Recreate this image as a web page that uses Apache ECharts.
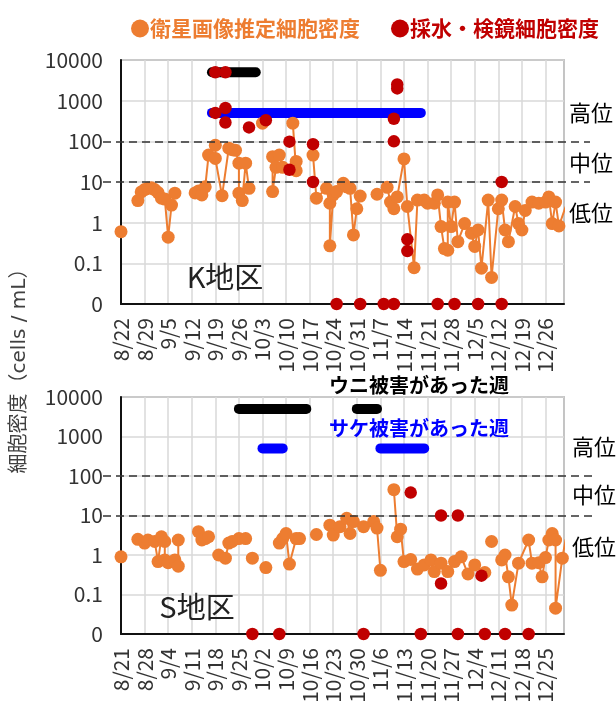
<!DOCTYPE html>
<html><head><meta charset="utf-8">
<script src="https://cdn.jsdelivr.net/npm/echarts@6/dist/echarts.min.js"></script>
<style>html,body{margin:0;padding:0;background:#fff}#c{width:616px;height:702px}</style>
</head><body><div id="c"></div>
<script>
// ---------- data ----------
const kStart = '8/22';
const sStart = '8/21';
const kTickLabels = ['8/22','8/29','9/5','9/12','9/19','9/26','10/3','10/10','10/17','10/24','10/31','11/7','11/14','11/21','11/28','12/5','12/12','12/19','12/26'];
const sTickLabels = ['8/21','8/28','9/4','9/11','9/18','9/25','10/2','10/9','10/16','10/23','10/30','11/6','11/13','11/20','11/27','12/4','12/11','12/18','12/25'];
const yTickLabels = ['0','0.1','1','10','100','1000','10000'];
const zeroValue = 0.01; // "0" row on the log axis

// K area, satellite estimated density (null = gap in the line)
const kSatDates  = ['8/22','8/23',
  '8/27','8/28','8/29','8/30','8/31','9/1','9/2','9/3','9/4','9/5','9/6','9/7','9/8',
  '9/13','9/14','9/15','9/16','9/17','9/19','9/19','9/21','9/23','9/24','9/25','9/26','9/26','9/27','9/28','9/29','9/30',
  '10/3','10/4',
  '10/6','10/6','10/7','10/8','10/9','10/10',
  '10/12','10/13','10/13','10/14',
  '10/18','10/19','10/22','10/23','10/23','10/24','10/24','10/25','10/27','10/28','10/29','10/30','10/31','11/1','11/2',
  '11/6','11/7',
  '11/9','11/10','11/11','11/12','11/14','11/15','11/17','11/18','11/20','11/21','11/23','11/24','11/25','11/26','11/27','11/27','11/28','11/29','11/30',
  '12/2','12/4','12/5','12/6','12/7','12/9','12/10','12/12','12/13','12/14','12/15','12/17','12/18','12/19','12/20','12/22','12/24','12/26','12/27','12/28','12/29','12/30','1/1'];
const kSatValues = [0.6,null,
  3.5,5.7,6.5,7,7.2,6.5,5.5,4,3.8,0.44,2.7,5.3,null,
  5.4,6,4.8,7.6,46,80,38,4.6,68,62,60,29,5.3,3.5,29,7,null,
  280,null,
  42,5.8,23,46,23,null,
  280,19,32,null,
  46,4,7,3,0.27,4.8,5.3,5.8,9.3,7.6,7,0.5,2.2,4.5,null,
  5,null,
  7.4,3.2,2.2,4.3,37,2.5,0.078,3.6,3.6,3,3,4.8,0.8,0.23,0.21,3.2,0.8,3.2,0.34,
  0.95,0.55,0.26,0.66,0.076,3.6,0.045,2.2,3.6,0.66,0.34,2.5,0.95,0.66,2,3.2,3,3.2,4.3,0.95,3.2,0.83,2.5];

// K area, water sampling / microscopy density (0 = not detected)
const kObsDates  = ['9/19','9/22','9/19','9/22','9/22','9/29','10/4','10/11','10/11','10/18','10/18','10/25','11/1','11/8','11/11','11/12','11/12','11/11','11/11','11/15','11/15','11/24','11/29','12/6','12/13','12/13'];
const kObsValues = [5000,5000,500,660,290,220,330,98,20,85,10,0,0,0,0,2000,2500,360,100,0.39,0.2,0,0,0,0,10];

// S area, satellite estimated density (null = gap in the line)
const sSatDates  = ['8/21','8/22',
  '8/26','8/28','8/29','8/31','9/1','9/2','9/3','9/3','9/4','9/6','9/7','9/7','9/8',
  '9/13','9/14','9/15','9/16','9/17',
  '9/19','9/21','9/22','9/23','9/25','9/27','9/28',
  '9/29','9/30',
  '10/3','10/4',
  '10/7','10/8','10/9','10/10','10/12','10/13','10/14',
  '10/18','10/19',
  '10/22','10/23','10/25','10/27','10/28','10/29','11/1','11/4','11/5','11/6','11/7',
  '11/10','11/11','11/12','11/13','11/15','11/17','11/19','11/21','11/22','11/24','11/26','11/28','11/30','12/2','12/4','12/7','12/8',
  '12/9','12/10',
  '12/12','12/13','12/14','12/15','12/17','12/20','12/21','12/23','12/24','12/25','12/26','12/27','12/28','12/28','12/30','12/31'];
const sSatValues = [0.9,null,
  2.5,2.0,2.4,2.2,0.68,2.9,2.2,0.75,0.64,0.75,0.52,2.4,null,
  3.9,2.4,2.6,2.9,null,
  1.0,0.83,2.0,2.2,2.6,2.6,null,
  0.83,null,
  0.48,null,
  2.0,2.6,3.5,0.59,2.6,2.6,null,
  3.3,null,
  5.7,3.2,5.2,8.5,3.5,7,5.2,7,4.8,0.41,null,
  45,2.9,4.5,0.68,0.77,0.44,0.56,0.75,0.38,0.62,0.38,0.68,0.9,0.33,0.56,0.36,null,
  2.2,null,
  0.75,1.0,0.28,0.054,0.62,2.4,0.62,0.64,0.28,0.86,2.4,3.5,2.4,0.045,0.83,2.5];

// S area, water sampling / microscopy density (0 = not detected)
const sObsDates  = ['9/29','10/7','11/1','11/15','11/18','11/24','11/24','11/29','11/29','12/6','12/7','12/13','12/20'];
const sObsValues = [0,0,0,38,0,10,0.19,10,0,0.3,0,0,0];

// weeks with damage [from, to]
const urchinLevel = 5000, salmonLevel = 500;
const kUrchinWeeks = [['9/18','10/1']];
const kSalmonWeeks = [['9/18','11/19']];
const sUrchinWeeks = [['9/25','10/15'],['10/30','11/5']];
const sSalmonWeeks = [['10/2','10/8'],['11/6','11/19']];
const levelLines = [100, 10];

// ---------- helpers ----------
function dayOf(md, start){
  const [m,d] = md.split('/').map(Number), [m0,d0] = start.split('/').map(Number);
  const y = m < m0 ? 2002 : 2001;
  return Math.round((Date.UTC(y,m-1,d) - Date.UTC(2001,m0-1,d0)) / 86400000);
}
function pairs(dates, vals, start){
  return dates.map((t,i)=>[dayOf(t,start), vals[i] === null ? null : (vals[i] === 0 ? zeroValue : vals[i])]);
}
const ORANGE = '#ED7D31', RED = '#C00000', BLUE = '#0000FF';
const FONT = '"Noto Sans CJK JP", "Noto Sans", sans-serif';

const grids = [
  {left:121, top:60, width:443, height:244},
  {left:121, top:397, width:443, height:237}
];
const overlay = [
  {left:103, top:60, width:487, height:244},
  {left:103, top:397, width:491, height:237}
];
function txt(text, x, y, size, color, extra){
  return {type:'text', x, y, z:10, style:Object.assign({text, fontSize:size, fontFamily:FONT, fill:color, verticalAlign:'middle'}, extra||{})};
}

const option = {
  animation:false,
  textStyle:{fontFamily:FONT},
  legend:{
    left:126, top:13, itemWidth:18, itemHeight:18, itemGap:31, icon:'circle', selectedMode:false,
    data:[{name:'衛星画像推定細胞密度', textStyle:{color:ORANGE}}, {name:'採水・検鏡細胞密度', textStyle:{color:RED}}],
    textStyle:{fontSize:21, fontWeight:'bold', fontFamily:FONT, padding:[0,0,0,-4]}
  },
  grid: [
    ...grids.map(g=>Object.assign({show:true, borderColor:'#404040', borderWidth:1.2, backgroundColor:'transparent', containLabel:false, outerBoundsMode:'none'}, g)),
    ...overlay.map(g=>Object.assign({show:false, containLabel:false, outerBoundsMode:'none'}, g))
  ],
  xAxis: [0,1].map(i=>({
    type:'value', gridIndex:i, min:0, max:131.5, interval:7,
    axisLine:{show:true, onZero:false, lineStyle:{color:'#111', width:2}},
    axisTick:{show:false},
    splitLine:{show:true, lineStyle:{color:'#d9d9d9', width:1.5}},
    axisLabel:{rotate:90, margin:14, fontSize:21, color:'#333', showMaxLabel:false,
      formatter:v=>{ const lab = (i===0?kTickLabels:sTickLabels)[Math.round(v/7)]; return (v%7===0 && lab) ? lab : ''; }}
  })).concat([2,3].map(i=>({type:'value', gridIndex:i, min:0, max:1, show:false}))),
  yAxis: [0,1].map(i=>({
    type:'log', logBase:10, gridIndex:i, min:0.01, max:10000,
    axisLine:{show:true, lineStyle:{color:'#111', width:2}},
    axisTick:{show:false},
    splitLine:{show:true, lineStyle:{color:'#d9d9d9', width:1.5}},
    axisLabel:{fontSize:21, color:'#333', margin:18,
      formatter:v=>yTickLabels[Math.round(Math.log10(v))+2]}
  })).concat([2,3].map(i=>({type:'log', logBase:10, gridIndex:i, min:0.01, max:10000, show:false}))),
  graphic:[
    Object.assign(txt('細胞密度（cells / mL）', 20, 366, 20, '#404040', {align:'center', fontFamily:'"DejaVu Sans", "Noto Sans CJK JP", sans-serif'}), {rotation:Math.PI/2}),
    txt('K地区', 225, 277, 29, '#222', {align:'center'}),
    txt('S地区', 197, 607, 29, '#222', {align:'center'}),
    txt('ウニ被害があった週', 419, 385, 20, '#000', {align:'center', fontWeight:'bold'}),
    txt('サケ被害があった週', 419, 428, 20, BLUE, {align:'center', fontWeight:'bold'}),
    txt('高位', 569, 113, 22, '#000'),
    txt('中位', 569, 163, 22, '#000'),
    txt('低位', 569, 213, 22, '#000'),
    txt('高位', 572, 447, 22, '#000'),
    txt('中位', 572, 495, 22, '#000'),
    txt('低位', 572, 547, 22, '#000')
  ],
  series:[]
};

function barSeries(weeks, level, color, gi, start){
  return weeks.map(w=>({
    type:'line', xAxisIndex:gi, yAxisIndex:gi, z:3, silent:true, symbol:'none',
    lineStyle:{color, width:10, cap:'round'},
    data:[[dayOf(w[0],start), level],[dayOf(w[1],start), level]]
  }));
}
[[0,kStart,kSatDates,kSatValues,kObsDates,kObsValues,kUrchinWeeks,kSalmonWeeks],
 [1,sStart,sSatDates,sSatValues,sObsDates,sObsValues,sUrchinWeeks,sSalmonWeeks]].forEach(([gi,start,sd,sv,od,ov,uw,sw])=>{
  option.series.push({
    type:'line', name:'dash', xAxisIndex:gi+2, yAxisIndex:gi+2, z:1, silent:true, symbol:'none',
    lineStyle:{opacity:0}, data:[[0.5,1]],
    markLine:{silent:true, symbol:'none', label:{show:false},
      lineStyle:{color:'#333', width:1.5, type:[8,5]},
      data: levelLines.map(v=>({yAxis:v}))}
  });
  option.series.push(...barSeries(uw, urchinLevel, '#000', gi, start));
  option.series.push(...barSeries(sw, salmonLevel, BLUE, gi, start));
  option.series.push({
    type:'line', name:'衛星画像推定細胞密度', xAxisIndex:gi, yAxisIndex:gi, z:4,
    symbol:'circle', symbolSize:13, connectNulls:false, clip:true,
    itemStyle:{color:ORANGE}, lineStyle:{color:ORANGE, width:2},
    data: pairs(sd, sv, start)
  });
  option.series.push({
    type:'scatter', name:'採水・検鏡細胞密度', xAxisIndex:gi, yAxisIndex:gi, z:5,
    symbol:'circle', symbolSize:12.5, clip:false,
    itemStyle:{color:RED, opacity:1},
    data: pairs(od, ov, start)
  });
});

const chart = echarts.init(document.getElementById('c'), null, {renderer:'canvas'});
chart.setOption(option);
</script></body></html>
